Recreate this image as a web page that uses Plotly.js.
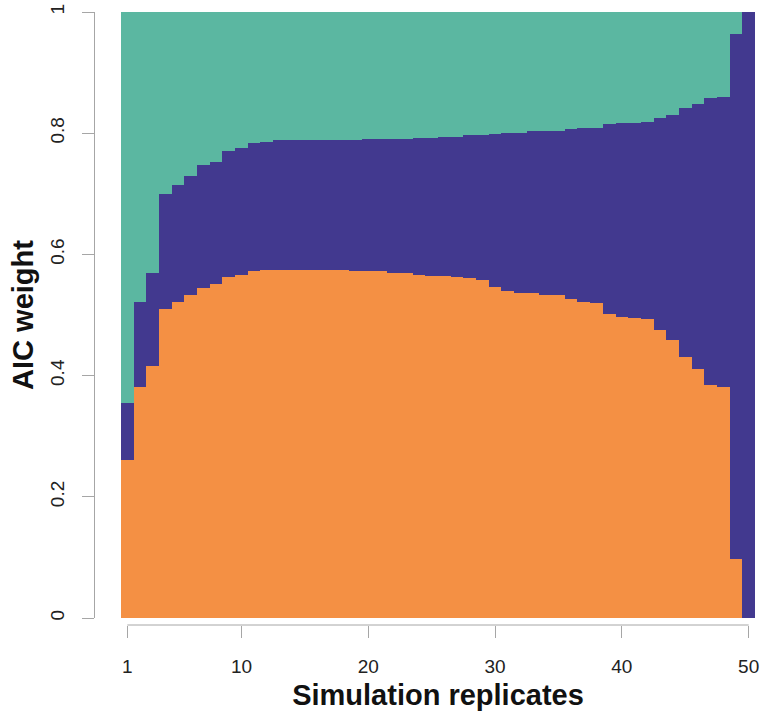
<!DOCTYPE html>
<html>
<head>
<meta charset="utf-8">
<script src="https://cdn.plot.ly/plotly-3.0.1.min.js"></script>
<style>
  html, body { margin: 0; padding: 0; background: #ffffff; }
  #chart { width: 764px; height: 711px; }
</style>
</head>
<body>
<div id="chart"></div>
<script>
// Simulation replicate index (1..50)
const replicates = [
  1, 2, 3, 4, 5, 6, 7, 8, 9, 10,
  11, 12, 13, 14, 15, 16, 17, 18, 19, 20,
  21, 22, 23, 24, 25, 26, 27, 28, 29, 30,
  31, 32, 33, 34, 35, 36, 37, 38, 39, 40,
  41, 42, 43, 44, 45, 46, 47, 48, 49, 50
];

// AIC weight of the bottom (orange) model
const weightOrange = [
  0.261, 0.382, 0.416, 0.510, 0.522, 0.533, 0.545, 0.551, 0.563, 0.566,
  0.573, 0.574, 0.575, 0.575, 0.575, 0.574, 0.574, 0.574, 0.573, 0.572,
  0.572, 0.569, 0.569, 0.566, 0.564, 0.564, 0.562, 0.561, 0.557, 0.546,
  0.539, 0.536, 0.536, 0.533, 0.533, 0.526, 0.522, 0.520, 0.501, 0.496,
  0.495, 0.493, 0.475, 0.458, 0.430, 0.411, 0.385, 0.382, 0.098, 0.000
];

// AIC weight of the middle (purple) model
const weightPurple = [
  0.094, 0.140, 0.154, 0.189, 0.193, 0.197, 0.203, 0.202, 0.208, 0.209,
  0.211, 0.212, 0.214, 0.214, 0.214, 0.215, 0.215, 0.215, 0.216, 0.218,
  0.218, 0.221, 0.221, 0.226, 0.228, 0.229, 0.231, 0.236, 0.240, 0.252,
  0.262, 0.265, 0.268, 0.271, 0.271, 0.281, 0.287, 0.289, 0.314, 0.321,
  0.322, 0.326, 0.350, 0.372, 0.411, 0.437, 0.473, 0.478, 0.865, 1.000
];

// AIC weight of the top (teal) model
const weightTeal = [
  0.645, 0.478, 0.430, 0.301, 0.285, 0.270, 0.252, 0.247, 0.229, 0.225,
  0.216, 0.214, 0.211, 0.211, 0.211, 0.211, 0.211, 0.211, 0.211, 0.210,
  0.210, 0.210, 0.210, 0.208, 0.208, 0.207, 0.207, 0.203, 0.203, 0.202,
  0.199, 0.199, 0.196, 0.196, 0.196, 0.193, 0.191, 0.191, 0.185, 0.183,
  0.183, 0.181, 0.175, 0.170, 0.159, 0.152, 0.142, 0.140, 0.037, 0.000
];

const xTickVals = [1, 10, 20, 30, 40, 50];
const xTickText = ['1', '10', '20', '30', '40', '50'];
const yTickVals = [0, 0.2, 0.4, 0.6, 0.8, 1];
const yTickText = ['0', '0.2', '0.4', '0.6', '0.8', '1'];

const colOrange = '#F49044';
const colPurple = '#42398F';
const colTeal = '#5BB7A1';
const axisGray = '#a6a6a6';
const FONT = 'Liberation Sans, Arial, Helvetica, sans-serif';

function barTrace(values, color, name) {
  return {
    type: 'bar',
    x: replicates,
    y: values,
    name: name,
    width: 1,
    marker: { color: color, line: { width: 0 } },
    hoverinfo: 'x+y'
  };
}

const data = [
  barTrace(weightOrange, colOrange, 'Model 1'),
  barTrace(weightPurple, colPurple, 'Model 2'),
  barTrace(weightTeal, colTeal, 'Model 3')
];

const layout = {
  width: 764,
  height: 711,
  margin: { l: 94, r: 9, t: 12, b: 86, pad: 0 },
  paper_bgcolor: '#ffffff',
  plot_bgcolor: '#ffffff',
  barmode: 'stack',
  bargap: 0,
  showlegend: false,
  font: { family: FONT, color: '#222222' },
  xaxis: {
    domain: [27 / 661, 1],
    range: [0.5, 50.5],
    anchor: 'free',
    position: 0,
    showgrid: false,
    zeroline: false,
    showline: false,
    ticks: 'outside',
    ticklen: 12,
    tickwidth: 1,
    tickcolor: axisGray,
    tickvals: xTickVals,
    ticktext: xTickText,
    ticklabelstandoff: 12,
    tickfont: { family: FONT, size: 19, color: '#222222' },
    title: {
      text: '<b>Simulation replicates</b>',
      font: { family: FONT, size: 29, color: '#111111' },
      standoff: 8
    }
  },
  yaxis: {
    domain: [7 / 613, 1],
    range: [0, 1],
    anchor: 'free',
    position: 0,
    showgrid: false,
    zeroline: false,
    showline: true,
    linecolor: axisGray,
    linewidth: 1,
    ticks: 'outside',
    ticklen: 12,
    tickwidth: 1,
    tickcolor: axisGray,
    tickvals: yTickVals,
    ticktext: yTickText,
    tickangle: -90,
    ticklabelstandoff: 10,
    tickfont: { family: FONT, size: 19, color: '#222222' },
    title: {
      text: '<b>AIC weight</b>',
      font: { family: FONT, size: 29, color: '#111111' },
      standoff: 4
    }
  },
  shapes: [{
    type: 'line',
    xref: 'x',
    yref: 'paper',
    x0: xTickVals[0],
    x1: xTickVals[xTickVals.length - 1],
    y0: 0,
    y1: 0,
    line: { color: axisGray, width: 1 }
  }]
};

Plotly.newPlot('chart', data, layout, { displayModeBar: false, responsive: false, staticPlot: true });
</script>
</body>
</html>
